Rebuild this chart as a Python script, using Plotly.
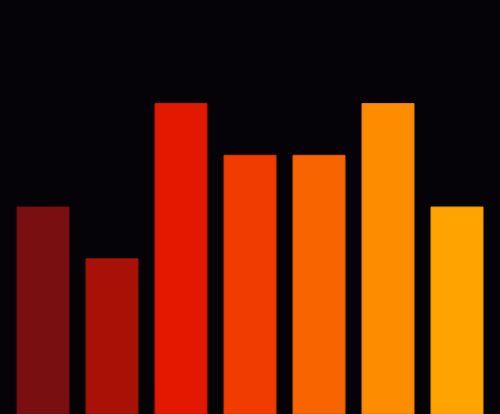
import plotly.graph_objects as go

categories = ["A", "B", "C", "D", "E", "F", "G"]
values = [4, 3, 6, 5, 5, 6, 4]
colors = ["#7a0f12", "#a81206", "#e31800", "#f03c00", "#f86400", "#fe8c00", "#ffa300"]
edge_colors = ["#6a0c0e", "#961004", "#c81500", "#d83600", "#e05800", "#e67e00", "#e89400"]

x_pos = list(range(len(categories)))

fig = go.Figure(go.Bar(
    x=x_pos,
    y=values,
    width=0.754,
    marker=dict(color=colors, line=dict(color=edge_colors, width=1)),
    hoverinfo="skip",
))

fig.update_layout(
    width=500, height=414,
    margin=dict(l=0, r=0, t=0, b=0),
    paper_bgcolor="#050307",
    plot_bgcolor="#050307",
    showlegend=False,
    xaxis=dict(range=[-0.623, 6.623], visible=False, showgrid=False, zeroline=False),
    yaxis=dict(range=[0, 8], visible=False, showgrid=False, zeroline=False),
)

fig.write_html(
    "out.html",
    config={"displayModeBar": False},
    post_script="document.body.style.margin='0';document.body.style.background='#050307';document.body.style.overflow='hidden';",
)
